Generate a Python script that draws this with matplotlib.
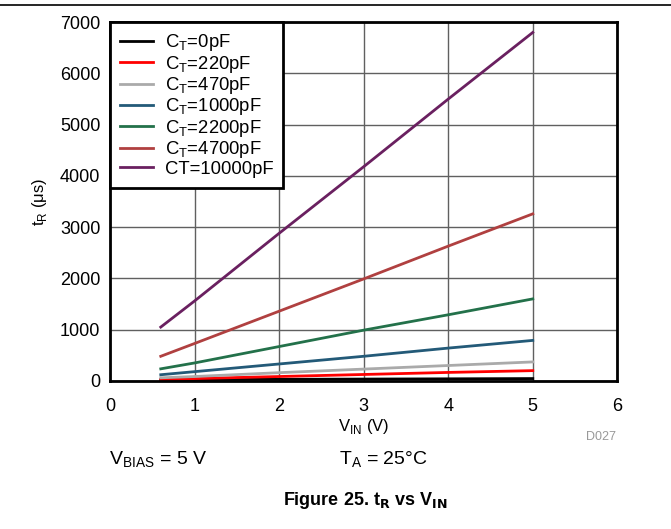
import matplotlib
matplotlib.use("Agg")
import matplotlib.pyplot as plt

plt.rcParams['font.family'] = ['Liberation Sans', 'DejaVu Sans']

v_in = [0.6, 1, 2, 3, 4, 5]
labels = [r'C$_\mathregular{T}$=0pF', r'C$_\mathregular{T}$=220pF', r'C$_\mathregular{T}$=470pF',
          r'C$_\mathregular{T}$=1000pF', r'C$_\mathregular{T}$=2200pF', r'C$_\mathregular{T}$=4700pF',
          'CT=10000pF']
colors = ['#000000', '#ff0000', '#aaaaaa', '#235a78', '#23714a', '#b04040', '#6a2060']
t_r = [
    [20, 25, 30, 35, 40, 45],
    [25, 45, 85, 125, 165, 200],
    [60, 85, 160, 230, 300, 370],
    [120, 180, 330, 480, 640, 790],
    [235, 350, 670, 990, 1290, 1600],
    [480, 730, 1360, 1990, 2630, 3260],
    [1050, 1560, 2880, 4180, 5500, 6800],
]

fig = plt.figure(figsize=(6.71, 5.29), dpi=100)
ax = fig.add_axes([0.164, 0.280, 0.756, 0.678])

for y, c, lab in zip(t_r, colors, labels):
    ax.plot(v_in, y, color=c, lw=2, label=lab)

ax.set_xlim(0, 6)
ax.set_ylim(0, 7000)
ax.set_xticks(range(7))
ax.set_yticks(range(0, 7001, 1000))
ax.grid(True, color='#606060', lw=1)
ax.set_axisbelow(True)
for s in ax.spines.values():
    s.set_linewidth(2)
ax.tick_params(labelsize=13, length=0)
ax.tick_params(axis='x', pad=12)
ax.tick_params(axis='y', pad=7)
ax.set_xlabel(r'V$_\mathregular{IN}$ (V)', fontsize=12, labelpad=2)
ax.set_ylabel(r't$_\mathregular{R}$ ($\mathregular{\mu}$s)', fontsize=12, labelpad=8)

leg = ax.legend(loc='upper left', fontsize=13.3, frameon=True, fancybox=False,
                borderaxespad=0, handlelength=1.8, handletextpad=0.6, labelspacing=0.02,
                borderpad=0.55, edgecolor='black')
leg.get_frame().set_linewidth(2)
leg.get_frame().set_alpha(1)

fig.text(0.918, 0.168, 'D027', color='#999999', fontsize=9, ha='right')
fig.text(0.163, 0.122, r'V$_\mathregular{BIAS}$ = 5 V', fontsize=14)
fig.text(0.505, 0.122, r'T$_\mathregular{A}$ = 25°C', fontsize=14)
fig.text(0.545, 0.045, r'Figure 25. t$_\mathbf{R}$ vs V$_\mathbf{IN}$', fontsize=13,
         fontweight='bold', ha='center')
fig.add_artist(plt.Line2D([0, 1], [0.99, 0.99], color='black', lw=1.2, transform=fig.transFigure))

fig.savefig('out.png', dpi=100)
